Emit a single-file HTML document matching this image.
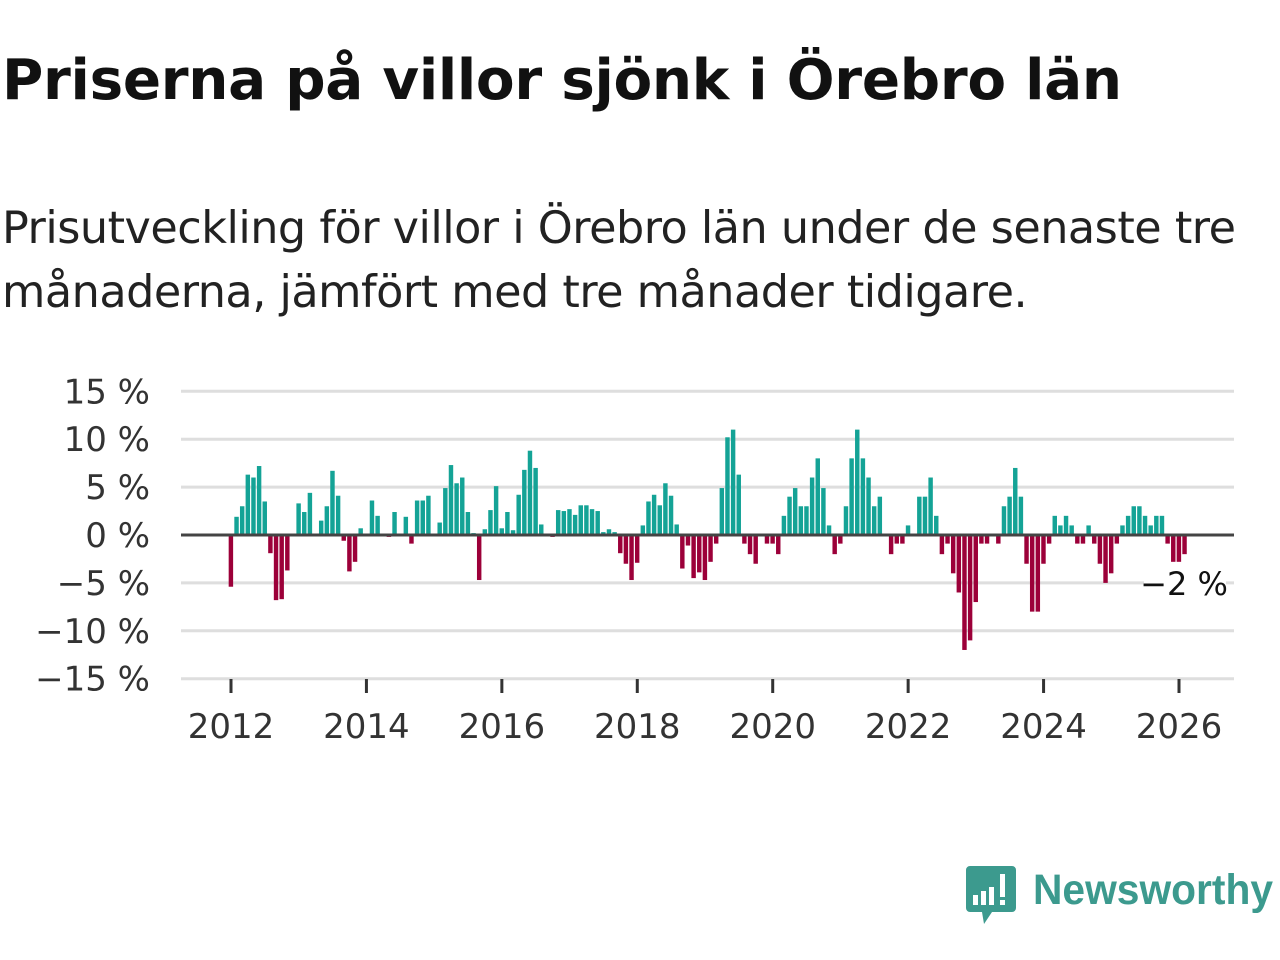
<!DOCTYPE html>
<html><head><meta charset="utf-8">
<style>
html,body{margin:0;padding:0;background:#fff;width:1280px;height:960px;overflow:hidden;font-family:"DejaVu Sans","Liberation Sans",sans-serif;}
#title{position:absolute;left:2px;top:48px;font-size:56.4px;font-weight:bold;color:#111;white-space:nowrap;letter-spacing:-0.3px}
#subtitle{position:absolute;left:2px;top:197px;font-size:44.5px;line-height:64px;color:#222;width:1262px;letter-spacing:-0.5px}
svg{position:absolute;left:0;top:0}
</style></head><body>
<div id="title">Priserna på villor sjönk i Örebro län</div>
<div id="subtitle">Prisutveckling för villor i Örebro län under de senaste tre månaderna, jämfört med tre månader tidigare.</div>
<svg id="chart" width="1280" height="960"></svg>
<script>
const yTicks = [15,10,5,0,-5,-10,-15];
const yTickLabels = ["15 %","10 %","5 %","0 %","\u22125 %","\u221210 %","\u221215 %"];
const xTicks = [2012,2014,2016,2018,2020,2022,2024,2026];
const startYear = 2012;
const values = [
-5.4,1.9,3.0,6.3,6.0,7.2,3.5,-1.9,-6.8,-6.7,-3.7,0,
3.3,2.4,4.4,0,1.5,3.0,6.7,4.1,-0.6,-3.8,-2.8,0.7,
0,3.6,2.0,0,-0.2,2.4,0,1.9,-0.9,3.6,3.6,4.1,
0,1.3,4.9,7.3,5.4,6.0,2.4,0.2,-4.7,0.6,2.6,5.1,
0.7,2.4,0.5,4.2,6.8,8.8,7.0,1.1,0,-0.2,2.6,2.5,
2.7,2.1,3.1,3.1,2.7,2.5,0.3,0.6,0.3,-1.9,-3.0,-4.7,
-2.9,1.0,3.5,4.2,3.1,5.4,4.1,1.1,-3.5,-1.1,-4.5,-3.9,
-4.7,-2.8,-0.9,4.9,10.2,11.0,6.3,-0.9,-2.0,-3.0,0,-0.9,
-0.9,-2.0,2.0,4.0,4.9,3.0,3.0,6.0,8.0,4.9,1.0,-2.0,
-0.9,3.0,8.0,11.0,8.0,6.0,3.0,4.0,0,-2.0,-0.9,-0.9,
1.0,0,4.0,4.0,6.0,2.0,-2.0,-0.9,-4.0,-6.0,-12.0,-11.0,
-7.0,-0.9,-0.9,0,-0.9,3.0,4.0,7.0,4.0,-3.0,-8.0,-8.0,
-3.0,-0.9,2.0,1.0,2.0,1.0,-0.9,-0.9,1.0,-0.9,-3.0,-5.0,
-4.0,-0.9,1.0,2.0,3.0,3.0,2.0,1.0,2.0,2.0,-0.9,-2.8,
-2.8,-2.0
];
const lastLabel = "\u22122 %";

const NS="http://www.w3.org/2000/svg";
const svg=document.getElementById('chart');
const X0=231, X1=1179, plotL=181, plotR=1234;
function xScale(yearFrac){return X0+(yearFrac-2012)*(X1-X0)/(2026-2012);}
function yScale(v){return 535 - v*9.58;}
function mk(tag,attrs){const e=document.createElementNS(NS,tag);for(const k in attrs)e.setAttribute(k,attrs[k]);svg.appendChild(e);return e;}

yTicks.forEach((t,i)=>{
  if(t!==0){
    const g=mk('line',{x1:plotL,x2:plotR,y1:yScale(t),y2:yScale(t),stroke:'#dedede','stroke-width':3});
    
    
  }
  const tx=mk('text',{x:150,y:yScale(t)+12,'text-anchor':'end','font-size':34,fill:'#333','font-family':'DejaVu Sans, Liberation Sans, sans-serif'});
  tx.textContent=yTickLabels[i];
  
  
});
xTicks.forEach(t=>{
  const x=xScale(t);
  const l=mk('line',{x1:x,x2:x,y1:679,y2:693,stroke:'#333','stroke-width':3});
  
  
  const tx=mk('text',{x:x,y:738,'text-anchor':'middle','font-size':34,fill:'#333','font-family':'DejaVu Sans, Liberation Sans, sans-serif'});
  tx.textContent=String(t);
  
  
});
const bw=(X1-X0)/14/12;
values.forEach((v,i)=>{
  const x=xScale(startYear+i/12)-bw/2;
  const y0=yScale(0), y1=yScale(v);
  const r=mk('rect',{x:x+0.5,y:Math.min(y0,y1),width:bw-1.2,height:Math.abs(y1-y0),fill:v>=0?'#14a396':'#9c0039'});
  
  
});
const z=mk('line',{x1:plotL,x2:plotR,y1:yScale(0),y2:yScale(0),stroke:'#444','stroke-width':3});


const lb=mk('rect',{x:1144,y:yScale(-5)-18,width:82,height:36,fill:'#fff'});


const lt=mk('text',{x:1184,y:yScale(-5)+12,'text-anchor':'middle','font-size':32,fill:'#111','font-family':'DejaVu Sans, Liberation Sans, sans-serif'});
lt.textContent=lastLabel;



const logo=document.createElementNS(NS,'g');


svg.appendChild(logo);
logo.innerHTML='<path d="M970 866 h42 a4 4 0 0 1 4 4 v38 a4 4 0 0 1 -4 4 h-20 l-8 12 l-2 -12 h-12 a4 4 0 0 1 -4 -4 v-38 a4 4 0 0 1 4 -4z" fill="#3c9a8e"/>'+
'<rect x="973" y="895" width="5" height="10" fill="#fff"/><rect x="981" y="891" width="5" height="14" fill="#fff"/><rect x="989" y="887" width="5" height="18" fill="#fff"/><rect x="1000" y="874" width="5" height="23" fill="#fff"/><rect x="1000" y="900" width="5" height="5" fill="#fff"/>'+
'<text x="1033" y="904" font-size="43" font-weight="bold" fill="#3c9a8e" textLength="240" lengthAdjust="spacingAndGlyphs" font-family="Liberation Sans, DejaVu Sans, sans-serif">Newsworthy</text>';
</script>
</body></html>
